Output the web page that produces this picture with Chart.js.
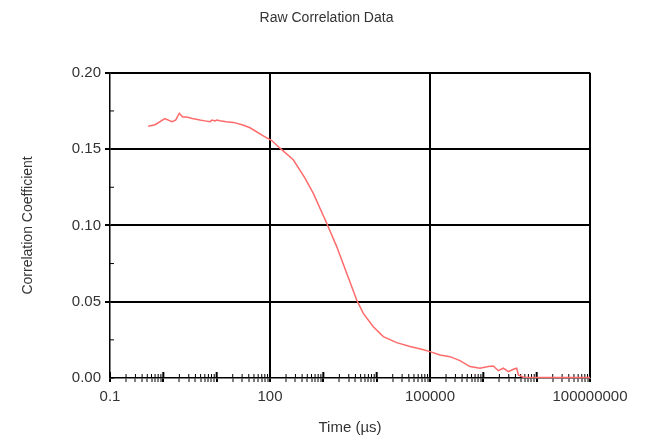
<!DOCTYPE html>
<html lang="en">
<head>
    <meta charset="UTF-8">
    <title>Raw Correlation Data</title>
    <script src="https://cdn.jsdelivr.net/npm/chart.js"></script>
    <style>
        html, body { margin: 0; padding: 0; background: #fff; }
        #wrap { width: 653px; height: 437px; }
    </style>
</head>
<body>
    <div id="wrap"><canvas id="corrChart"></canvas></div>

    <script>
        // time in microseconds and correlation coefficient
        const timeUs = [0.52, 0.7, 1.07, 1.44, 1.7, 1.99, 2.3, 2.74, 3.5, 4.87, 6, 7.5, 8.2, 9.3, 10, 11.5, 15, 20.5, 30, 42.2,
            74.8, 107.6, 154, 273, 453, 649, 1157, 1782, 2742, 4225, 5610, 8650, 13310, 23750, 42170, 69850, 100000,
            154000, 237000, 365000, 562000, 866000, 1240000, 1540000, 1910000, 2370000, 2940000, 3650000, 4230000,
            4530000, 5610000, 20000000, 100000000];
        const corrCoef = [0.165, 0.166, 0.170, 0.168, 0.169, 0.1735, 0.171, 0.171, 0.170, 0.169, 0.1685, 0.168, 0.169, 0.1685, 0.169, 0.1686, 0.168, 0.1675, 0.166, 0.164,
            0.1587, 0.1556, 0.1506, 0.143, 0.131, 0.121, 0.1014, 0.0861, 0.0686, 0.0511, 0.0423, 0.0336, 0.0271, 0.0232, 0.0206, 0.0188, 0.0173,
            0.0151, 0.014, 0.0114, 0.0075, 0.0064, 0.0075, 0.0079, 0.0048, 0.0064, 0.0042, 0.0057, 0.0064,
            0.002, 0.0005, 0.0004, 0.0004];

        const xLabelTicks = [0.1, 100, 100000, 100000000];
        const xGridTicks = [100, 100000, 100000000];
        const yMajorStep = 0.05;

        const same = (a, b) => Math.abs(a - b) <= Math.abs(b) * 1e-6;
        const isDecade = v => Math.abs(Math.log10(v) - Math.round(Math.log10(v))) < 1e-6;
        const isYMajor = v => Math.abs(v / yMajorStep - Math.round(v / yMajorStep)) < 1e-6;

        // short tick marks drawn inside the plot so they cross the axes
        const innerTicks = {
            id: 'innerTicks',
            beforeDatasetsDraw(chart) {
                const c = chart.ctx, a = chart.chartArea;
                const xs = chart.scales.x, ys = chart.scales.y;
                c.save();
                c.strokeStyle = '#000';
                xs.ticks.forEach(t => {
                    const px = xs.getPixelForValue(t.value);
                    const len = isDecade(t.value) ? 6 : 4;
                    c.lineWidth = isDecade(t.value) ? 2 : 1;
                    c.beginPath();
                    c.moveTo(px, a.bottom);
                    c.lineTo(px, a.bottom - len);
                    c.stroke();
                });
                c.lineWidth = 1;
                ys.ticks.forEach(t => {
                    const py = ys.getPixelForValue(t.value);
                    c.beginPath();
                    c.moveTo(a.left, py);
                    c.lineTo(a.left + 4, py);
                    c.stroke();
                });
                c.restore();
            }
        };

        const ctx = document.getElementById('corrChart').getContext('2d');
        new Chart(ctx, {
            type: 'line',
            data: {
                datasets: [{
                    data: timeUs.map((t, i) => ({ x: t, y: corrCoef[i] })),
                    borderColor: '#ff6b6b',
                    borderWidth: 1.5,
                    pointRadius: 0,
                    tension: 0,
                    fill: false,
                    clip: false
                }]
            },
            options: {
                responsive: true,
                maintainAspectRatio: false,
                animation: false,
                layout: { padding: 0 },
                plugins: {
                    legend: { display: false },
                    tooltip: { enabled: false },
                    title: {
                        display: true,
                        text: 'Raw Correlation Data',
                        color: '#333',
                        font: { family: 'Liberation Sans', size: 14, weight: 'normal' },
                        padding: { top: 10, bottom: 46 }
                    }
                },
                scales: {
                    x: {
                        type: 'logarithmic',
                        min: 0.1,
                        max: 100000000,
                        afterBuildTicks(scale) {
                            const ticks = [];
                            for (let e = -1; e <= 7; e++) {
                                for (let m = 1; m <= 9; m++) {
                                    ticks.push({ value: Number((m * Math.pow(10, e)).toPrecision(6)) });
                                }
                            }
                            ticks.push({ value: 100000000 });
                            scale.ticks = ticks;
                        },
                        afterFit(scale) { scale.height = 59; },
                        border: { display: true, color: '#000', width: 1.5 },
                        grid: {
                            drawTicks: true,
                            tickLength: 4,
                            tickColor: '#000',
                            tickWidth: c => (c.tick && isDecade(c.tick.value)) ? 2 : 1,
                            color: c => (c.tick && xGridTicks.some(g => same(c.tick.value, g))) ? '#000' : 'rgba(0,0,0,0)',
                            lineWidth: c => (c.tick && xGridTicks.some(g => same(c.tick.value, g))) ? 2 : 0
                        },
                        ticks: {
                            autoSkip: false,
                            maxRotation: 0,
                            minRotation: 0,
                            padding: 6,
                            color: '#333',
                            font: { family: 'Liberation Sans', size: 15 },
                            callback: v => {
                                const hit = xLabelTicks.find(t => same(v, t));
                                return hit !== undefined ? String(hit) : '';
                            }
                        },
                        title: {
                            display: true,
                            text: 'Time (µs)',
                            color: '#333',
                            font: { family: 'Liberation Sans', size: 15 },
                            padding: { top: 0, bottom: 0 }
                        }
                    },
                    y: {
                        type: 'linear',
                        min: 0,
                        max: 0.2,
                        afterFit(scale) { scale.width = 110; },
                        border: { display: true, color: '#000', width: 1.5 },
                        grid: {
                            drawTicks: true,
                            tickLength: 5,
                            tickColor: '#000',
                            color: c => (c.tick && c.tick.value > 0 && isYMajor(c.tick.value)) ? '#000' : 'rgba(0,0,0,0)',
                            lineWidth: c => (c.tick && c.tick.value > 0 && isYMajor(c.tick.value)) ? 2 : 0
                        },
                        ticks: {
                            stepSize: 0.025,
                            padding: 4,
                            color: '#333',
                            font: { family: 'Liberation Sans', size: 15 },
                            callback: v => isYMajor(v) ? v.toFixed(2) : ''
                        },
                        title: {
                            display: true,
                            text: 'Correlation Coefficient',
                            color: '#333',
                            font: { family: 'Liberation Sans', size: 14 },
                            padding: { top: 20, bottom: 0 }
                        }
                    },
                    yRight: {
                        type: 'linear',
                        position: 'right',
                        display: true,
                        min: 0,
                        max: 1,
                        afterFit(scale) { scale.width = 63; },
                        border: { display: false },
                        grid: { display: false },
                        ticks: { display: false }
                    }
                }
            },
            plugins: [innerTicks]
        });
    </script>
</body>
</html>
